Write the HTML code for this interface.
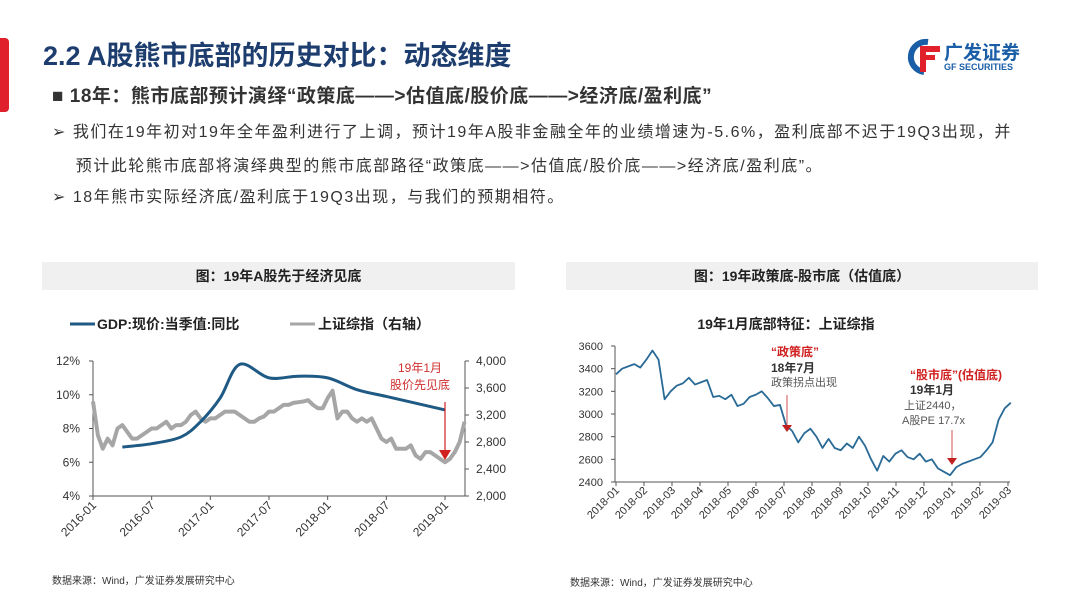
<!DOCTYPE html>
<html><head><meta charset="utf-8">
<style>
body{margin:0;width:1080px;height:608px;background:#fff;overflow:hidden;font-family:"Liberation Sans","Noto Sans CJK SC",sans-serif;position:relative}
.abs{position:absolute;white-space:nowrap}
</style></head><body>
<div class="abs" style="left:0;top:38px;width:9px;height:74px;background:#e0202a;border-radius:0 4px 4px 0"></div>
<div class="abs" style="left:43px;top:34px;font-size:27px;font-weight:bold;color:#1c3d6e">2.2 A股熊市底部的历史对比：动态维度</div>
<div class="abs" style="left:906px;top:38px;width:132px;height:38px">
<svg width="36" height="38" style="position:absolute;left:0;top:0"><path d="M22 4 A15 15 0 1 0 18 34" stroke="#1a5ea8" stroke-width="6" fill="none"/><rect x="14" y="8" width="20" height="6" fill="#e0202a"/><rect x="14" y="17" width="15" height="5" fill="#e0202a"/><rect x="14" y="8" width="6" height="26" fill="#e0202a"/></svg>
<div class="abs" style="left:38px;top:0;font-size:19px;font-weight:bold;color:#1a5ea8">广发证券</div>
<div class="abs" style="left:38px;top:24px;font-size:9px;font-weight:bold;color:#1a5ea8">GF SECURITIES</div></div>
<div class="abs" style="left:52px;top:81px;font-size:19px;letter-spacing:0.5px;font-weight:bold;color:#333">■ 18年：熊市底部预计演绎“政策底——&gt;估值底/股价底——&gt;经济底/盈利底”</div>
<div class="abs" style="left:52px;top:116px;font-size:16px;letter-spacing:1.5px;color:#333;line-height:34px">➢ 我们在19年初对19年全年盈利进行了上调，预计19年A股非金融全年的业绩增速为-5.6%，盈利底部不迟于19Q3出现，并<br>&nbsp;&nbsp;&nbsp;&nbsp;预计此轮熊市底部将演绎典型的熊市底部路径“政策底——&gt;估值底/股价底——&gt;经济底/盈利底”。</div>
<div class="abs" style="left:52px;top:183px;font-size:16px;letter-spacing:1.5px;color:#333">➢ 18年熊市实际经济底/盈利底于19Q3出现，与我们的预期相符。</div>
<div class="abs" style="left:42px;top:262px;width:473px;height:28px;background:#f0f0f0;text-align:center;line-height:28px;font-size:14px;font-weight:bold;color:#222">图：19年A股先于经济见底</div>
<div class="abs" style="left:566px;top:262px;width:472px;height:28px;background:#f0f0f0;text-align:center;line-height:28px;font-size:14px;font-weight:bold;color:#222">图：19年政策底-股市底（估值底）</div>
<div class="abs" style="left:52px;top:572px;font-size:10px;color:#333">数据来源：Wind，广发证券发展研究中心</div>
<div class="abs" style="left:570px;top:574px;font-size:10px;color:#333">数据来源：Wind，广发证券发展研究中心</div>
<svg id="c" width="1080" height="608" style="position:absolute;left:0;top:0" font-family="Liberation Sans,Noto Sans CJK SC,sans-serif"></svg>
<script>
const leftTicks=["2016-01","2016-07","2017-01","2017-07","2018-01","2018-07","2019-01"];
const leftYTicks=[4,6,8,10,12];
const rightYTicksLeft=[2000,2400,2800,3200,3600,4000];
const gdpMonths=[3,6,9,11,13,15,18,21,24,27,30,33,36];
const gdpValues=[6.9,7.1,7.5,8.4,9.8,11.8,11.0,11.1,11.0,10.3,9.9,9.5,9.1];
const sseLeft=[3400,2900,2700,2850,2750,3000,3050,2950,2850,2850,2900,2950,3000,3000,3050,3100,3000,3050,3050,3100,3200,3250,3150,3100,
3150,3150,3200,3250,3250,3250,3200,3150,3100,3100,3150,3180,3250,3250,3300,3350,3350,3380,3390,3400,3420,3350,3300,3300,
3450,3560,3150,3250,3250,3150,3100,3150,3100,3150,3000,2850,2800,2850,2700,2700,2700,2750,2600,2550,2650,2650,2600,2550,
2500,2550,2650,2800,3100];
const rightTicks=["2018-01","2018-02","2018-03","2018-04","2018-05","2018-06","2018-07","2018-08","2018-09","2018-10","2018-11","2018-12","2019-01","2019-02","2019-03"];
const rightYTicks=[2400,2600,2800,3000,3200,3400,3600];
const sseRight=[3350,3400,3420,3440,3410,3480,3560,3480,3130,3200,3250,3270,3320,3260,3280,3300,3150,3160,3130,3170,3070,3090,3150,3170,3200,3140,3070,3080,2900,2850,2750,2830,2870,2800,2700,2780,2700,2680,2740,2700,2800,2720,2600,2500,2630,2580,2650,2680,2620,2600,2650,2580,2600,2520,2490,2460,2530,2560,2580,2600,2620,2680,2750,2950,3050,3100];
const svg=document.getElementById('c');const NS='http://www.w3.org/2000/svg';
function mk(t,a,txt){const e=document.createElementNS(NS,t);for(const k in a)e.setAttribute(k,a[k]);if(txt!==undefined)e.textContent=txt;svg.appendChild(e);return e;}
function smooth(p){let d='M'+p[0][0]+','+p[0][1];for(let i=0;i<p.length-1;i++){const p0=p[i-1]||p[i],p1=p[i],p2=p[i+1],p3=p[i+2]||p2;d+=' C'+(p1[0]+(p2[0]-p0[0])/6)+','+(p1[1]+(p2[1]-p0[1])/6)+' '+(p2[0]-(p3[0]-p1[0])/6)+','+(p2[1]-(p3[1]-p1[1])/6)+' '+p2[0]+','+p2[1];}return d;}
// LEFT
const lx=m=>93+m*(445-93)/36, ly=v=>496-(v-4)*(135/8), ry=v=>496-(v-2000)*(135/2000);
let e;
e=mk('line',{x1:93,y1:361,x2:93,y2:496,stroke:'#555'});
e=mk('line',{x1:465,y1:361,x2:465,y2:496,stroke:'#555'});
e=mk('line',{x1:93,y1:496,x2:465,y2:496,stroke:'#555'});
leftYTicks.forEach(v=>{e=mk('text',{x:80,y:ly(v)+4,'font-size':12,'text-anchor':'end',fill:'#333'},v+'%');mk('line',{x1:89,x2:93,y1:ly(v),y2:ly(v),stroke:'#555'});});
rightYTicksLeft.forEach(v=>{e=mk('text',{x:476,y:ry(v)+4,'font-size':12,fill:'#333'},v.toLocaleString('en-US'));mk('line',{x1:465,x2:469,y1:ry(v),y2:ry(v),stroke:'#555'});});
leftTicks.forEach((t,i)=>{const x=lx(i*6);mk('line',{x1:x,x2:x,y1:496,y2:500,stroke:'#555'});e=mk('text',{x:x+4,y:506,'font-size':12,'text-anchor':'end',fill:'#333',transform:`rotate(-45 ${x+4} 506)`},t);});
const sp=sseLeft.map((v,i)=>[lx(i*0.5),ry(v)]);
e=mk('polyline',{points:sp.map(p=>p.join(',')).join(' '),fill:'none',stroke:'#a6a6a6','stroke-width':4,'stroke-linejoin':'round'});
e=mk('path',{d:smooth(gdpMonths.map((m,i)=>[lx(m),ly(gdpValues[i])])),fill:'none',stroke:'#1f5a85','stroke-width':3});
mk('line',{x1:445,y1:402,x2:445,y2:452,stroke:'#d02020','stroke-width':1.2});
e=mk('polygon',{points:'439,450 451,450 445,460',fill:'#d02020'});
e=mk('text',{x:420,y:372,'font-size':12,'text-anchor':'middle',fill:'#d03030'},'19年1月');
e=mk('text',{x:420,y:389,'font-size':12,'text-anchor':'middle',fill:'#d03030'},'股价先见底');
e=mk('line',{x1:70,y1:324,x2:95,y2:324,stroke:'#1f5a85','stroke-width':3});
e=mk('text',{x:97,y:329,'font-size':14,'font-weight':'bold',fill:'#222'},'GDP:现价:当季值:同比');
e=mk('line',{x1:290,y1:324,x2:315,y2:324,stroke:'#a6a6a6','stroke-width':3});
e=mk('text',{x:318,y:329,'font-size':14,'font-weight':'bold',fill:'#222'},'上证综指（右轴）');
// RIGHT
const rx=m=>616+m*28, rY=v=>482-(v-2400)*(136/1200);
e=mk('text',{x:786,y:329,'font-size':14,'font-weight':'bold','text-anchor':'middle',fill:'#222'},'19年1月底部特征：上证综指');
mk('line',{x1:615,y1:346,x2:615,y2:482,stroke:'#555'});
e=mk('line',{x1:615,y1:482,x2:1010,y2:482,stroke:'#555'});
rightYTicks.forEach(v=>{e=mk('text',{x:603,y:rY(v)+4,'font-size':11,'text-anchor':'end',fill:'#333'},v);mk('line',{x1:611,x2:615,y1:rY(v),y2:rY(v),stroke:'#555'});});
rightTicks.forEach((t,i)=>{const x=rx(i);mk('line',{x1:x,x2:x,y1:482,y2:486,stroke:'#555'});e=mk('text',{x:x+4,y:491,'font-size':11,'text-anchor':'end',fill:'#333',transform:`rotate(-45 ${x+4} 491)`},t);});
const n=sseRight.length;
e=mk('polyline',{points:sseRight.map((v,i)=>rx(i/(n-1)*14.1)+','+rY(v)).join(' '),fill:'none',stroke:'#2a6a96','stroke-width':1.8,'stroke-linejoin':'round'});
mk('line',{x1:787,y1:395,x2:787,y2:428,stroke:'#d05050'});
e=mk('polygon',{points:'782,425 792,425 787,432',fill:'#c02020'});
mk('line',{x1:952,y1:430,x2:952,y2:459,stroke:'#d05050'});
e=mk('polygon',{points:'947,458 957,458 952,465',fill:'#c02020'});
e=mk('text',{x:771,y:356,'font-size':12,'font-weight':'bold',fill:'#d02020'},'“政策底”');
mk('text',{x:771,y:372,'font-size':12,'font-weight':'bold',fill:'#333'},'18年7月');
mk('text',{x:771,y:386,'font-size':11,fill:'#555'},'政策拐点出现');
e=mk('text',{x:910,y:379,'font-size':12,'font-weight':'bold',fill:'#d02020'},'“股市底”(估值底)');
mk('text',{x:910,y:394,'font-size':12,'font-weight':'bold',fill:'#333'},'19年1月');
mk('text',{x:904,y:409,'font-size':11,fill:'#555'},'上证2440，');
mk('text',{x:902,y:424,'font-size':11,fill:'#555'},'A股PE 17.7x');
</script>
</body></html>
